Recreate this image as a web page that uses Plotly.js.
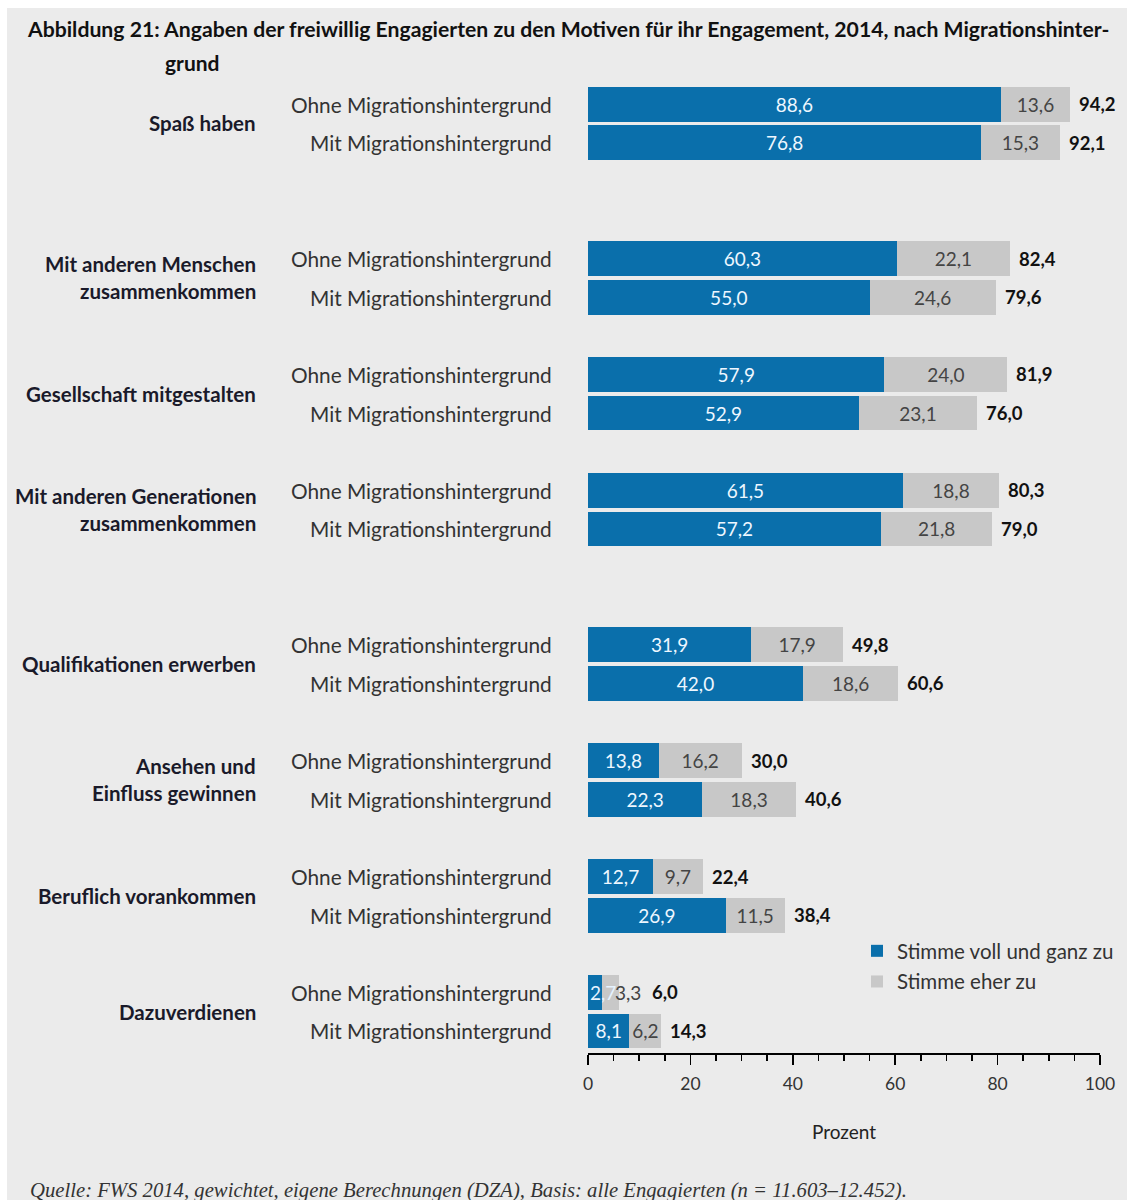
<!DOCTYPE html>
<html>
<head>
<meta charset="utf-8">
<script src="https://cdn.plot.ly/plotly-3.0.1.min.js"></script>
<style>
  html, body { margin: 0; padding: 0; background: #ffffff; }
  #chart { position: absolute; left: 7px; top: 8px; width: 1120px; height: 1192px; }
</style>
</head>
<body>
<div id="chart"></div>
<script>
// ---------- data ----------
const motive = [
  'Spaß haben',
  'Mit anderen Menschen<br>zusammenkommen',
  'Gesellschaft mitgestalten',
  'Mit anderen Generationen<br>zusammenkommen',
  'Qualifikationen erwerben',
  'Ansehen und<br>Einfluss gewinnen',
  'Beruflich vorankommen',
  'Dazuverdienen'
];
const gruppen = ['Ohne Migrationshintergrund', 'Mit Migrationshintergrund'];

// "Stimme voll und ganz zu" (per motive: [ohne, mit]) – bar lengths as drawn
const vollOhne = [80.6, 60.3, 57.9, 61.5, 31.9, 13.8, 12.7, 2.7];
const vollMit  = [76.8, 55.0, 52.9, 57.2, 42.0, 22.3, 26.9, 8.1];
// printed label of the first bar in the source reads "88,6"
const vollOhneLabel = ['88,6', '60,3', '57,9', '61,5', '31,9', '13,8', '12,7', '2,7'];

// "Stimme eher zu"
const eherOhne = [13.6, 22.1, 24.0, 18.8, 17.9, 16.2, 9.7, 3.3];
const eherMit  = [15.3, 24.6, 23.1, 21.8, 18.6, 18.3, 11.5, 6.2];

// total
const gesamtOhne = [94.2, 82.4, 81.9, 80.3, 49.8, 30.0, 22.4, 6.0];
const gesamtMit  = [92.1, 79.6, 76.0, 79.0, 60.6, 40.6, 38.4, 14.3];

const xTickVals = [0, 20, 40, 60, 80, 100];

const titelZeile1 = 'Abbildung 21: Angaben der freiwillig Engagierten zu den Motiven für ihr Engagement, 2014, nach Migrationshinter-';
const titelZeile2 = 'grund';
const quelle = 'Quelle: FWS 2014, gewichtet, eigene Berechnungen (DZA), Basis: alle Engagierten (n = 11.603–12.452).';
const legendVoll = 'Stimme voll und ganz zu';
const legendEher = 'Stimme eher zu';
const achsenTitel = 'Prozent';

// ---------- layout helpers ----------
const blankRowsBefore = [0, 2, 1, 1, 2, 1, 1, 1];   // spacing between motive groups
const fmt = v => v.toFixed(1).replace('.', ',');
const BLUE = '#0a6fab', GREY = '#c8c8c8', BG = '#ebebeb';
const FONT = 'Lato, "Open Sans", sans-serif';
const PLOT_W = 512;              // px of plot area width (x range 0..100)
const PX = PLOT_W / 100;         // px per percent
const NARROW = 5;                // segments narrower than this get labels set side by side
const LABEL_W = 25;              // approx. px width of a short value label

const rowsOhne = [], rowsMit = [];
let r = -1;
motive.forEach((m, i) => {
  r += 1 + blankRowsBefore[i];
  rowsOhne.push(r);
  r += 1;
  rowsMit.push(r);
});

const yRows = [], xVoll = [], xEher = [], tVoll = [], tEher = [], pos = [], rowInfo = [];
motive.forEach((m, i) => {
  rowInfo.push({ row: rowsOhne[i], v: vollOhne[i], e: eherOhne[i], g: gesamtOhne[i], tv: vollOhneLabel[i] });
  rowInfo.push({ row: rowsMit[i], v: vollMit[i], e: eherMit[i], g: gesamtMit[i], tv: fmt(vollMit[i]) });
});
rowInfo.forEach(d => {
  yRows.push(d.row); xVoll.push(d.v); xEher.push(d.e);
  tVoll.push(d.tv); tEher.push(fmt(d.e));
  pos.push(d.v < NARROW ? 'none' : 'inside');
});

const traces = [
  {
    type: 'bar', orientation: 'h', name: legendVoll,
    y: yRows, x: xVoll, width: 0.9,
    marker: { color: BLUE },
    text: tVoll, textposition: pos, insidetextanchor: 'middle', textangle: 0,
    constraintext: 'none', cliponaxis: false,
    textfont: { family: FONT, size: 19, color: '#eef7ff' },
    hoverinfo: 'x', legendgroup: 'a'
  },
  {
    type: 'bar', orientation: 'h', name: legendEher,
    y: yRows, x: xEher, width: 0.9,
    marker: { color: GREY },
    text: tEher, textposition: pos, insidetextanchor: 'middle', textangle: 0,
    constraintext: 'none', cliponaxis: false,
    textfont: { family: FONT, size: 19, color: '#444444' },
    hoverinfo: 'x', legendgroup: 'b'
  }
];

const annotations = [];
// value labels for narrow rows + totals
rowInfo.forEach(d => {
  let totalShift = 7;
  if (d.v < NARROW) {
    annotations.push({
      xref: 'x', yref: 'y', x: 0, y: d.row, xanchor: 'left', yanchor: 'middle',
      xshift: 0, showarrow: false, text: d.tv,
      font: { family: FONT, size: 19, color: '#e6f3ff' }
    });
    annotations.push({
      xref: 'x', yref: 'y', x: 0, y: d.row, xanchor: 'left', yanchor: 'middle',
      xshift: LABEL_W, showarrow: false, text: fmt(d.e),
      font: { family: FONT, size: 19, color: '#444444' }
    });
    totalShift = Math.max(7, 2 * LABEL_W + 12 - d.g * PX);
  }
  annotations.push({
    xref: 'x', yref: 'y', x: d.g, y: d.row, xanchor: 'left', yanchor: 'middle',
    xshift: totalShift, showarrow: false, text: '<b>' + fmt(d.g) + '</b>',
    font: { family: FONT, size: 18.5, color: '#111111' }
  });
});

motive.forEach((m, i) => {
  // subgroup labels
  [rowsOhne[i], rowsMit[i]].forEach((row, k) => {
    annotations.push({
      xref: 'paper', yref: 'y', x: 0, y: row, xanchor: 'right', yanchor: 'middle',
      xshift: -34, showarrow: false, text: gruppen[k],
      font: { family: FONT, size: 20.8, color: '#333333' }
    });
  });
  // motive labels (line by line)
  const lines = m.split('<br>');
  const center = (rowsOhne[i] + rowsMit[i]) / 2;
  lines.forEach((ln, j) => {
    annotations.push({
      xref: 'paper', yref: 'y', x: 0, y: center, xanchor: 'right', yanchor: 'middle',
      xshift: -330, yshift: ((lines.length - 1) / 2 - j) * 27, showarrow: false,
      text: '<b>' + ln + '</b>',
      font: { family: FONT, size: 20.5, color: '#1a1a2a' }
    });
  });
});

// title line 2
annotations.push({
  xref: 'paper', yref: 'paper', x: 0, y: 1, xanchor: 'left', yanchor: 'middle',
  xshift: -425, yshift: 19, showarrow: false, text: '<b>' + titelZeile2 + '</b>',
  font: { family: FONT, size: 21, color: '#111111' }
});
// axis title
annotations.push({
  xref: 'paper', yref: 'paper', x: 0.5, y: 0, xanchor: 'center', yanchor: 'middle',
  yshift: -78, showarrow: false, text: achsenTitel,
  font: { family: FONT, size: 19, color: '#222222' }
});
// source
annotations.push({
  xref: 'paper', yref: 'paper', x: 0, y: 0, xanchor: 'left', yanchor: 'middle',
  xshift: -560, yshift: -137, showarrow: false, text: '<i>' + quelle + '</i>',
  font: { family: '"Liberation Serif", "DejaVu Serif", serif', size: 20.7, color: '#333333' }
});

const layout = {
  width: 1120, height: 1192,
  margin: { l: 581, r: 1120 - 581 - PLOT_W, t: 73, b: 147, pad: 0, autoexpand: false },
  paper_bgcolor: BG, plot_bgcolor: BG,
  barmode: 'stack', bargap: 0,
  showlegend: true,
  title: {
    text: '<b>' + titelZeile1 + '</b>',
    xref: 'container', yref: 'container', x: 21 / 1120, xanchor: 'left',
    y: 1 - 22 / 1192, yanchor: 'middle', automargin: false,
    font: { family: FONT, size: 21.2, color: '#111111' }
  },
  xaxis: {
    range: [0, 100], fixedrange: true, automargin: false,
    tickvals: xTickVals, ticktext: xTickVals.map(String),
    showgrid: false, zeroline: false,
    showline: true, linecolor: '#000000', linewidth: 2,
    ticks: 'outside', ticklen: 10, tickwidth: 1.5, tickcolor: '#000000',
    ticklabelstandoff: 4,
    minor: { dtick: 5, ticks: 'outside', ticklen: 6, tickwidth: 1.5, tickcolor: '#000000', showgrid: false },
    tickfont: { family: FONT, size: 17.5, color: '#333333' }
  },
  yaxis: {
    range: [rowsMit[rowsMit.length - 1] + 0.57, -0.6], fixedrange: true, automargin: false,
    showgrid: false, zeroline: false, showline: false,
    showticklabels: false, ticks: ''
  },
  legend: {
    x: (850 - 581) / PLOT_W, xanchor: 'left',
    y: (1053 - 931) / 972, yanchor: 'top',
    bgcolor: 'rgba(0,0,0,0)', traceorder: 'grouped', tracegroupgap: 1,
    font: { family: FONT, size: 20.5, color: '#333333' }
  },
  annotations: annotations
};

Plotly.newPlot('chart', traces, layout, { displayModeBar: false, staticPlot: true });
</script>
</body>
</html>
